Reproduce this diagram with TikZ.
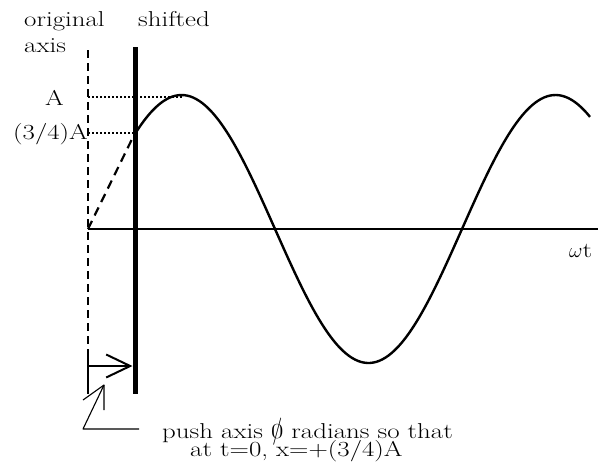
\documentclass[tikz,border=0pt]{standalone}
\usepackage{fontspec}
\setmainfont{Latin Modern Roman}[FakeStretch=1.25]
\usepackage{graphicx}
\usetikzlibrary{arrows.meta}
\newcommand{\slashzero}{{\ooalign{0\cr\hidewidth\scalebox{0.8}[1.27]{/}\hidewidth\cr}}}
\begin{document}
\begin{tikzpicture}[x=1pt,y=-1pt,line join=round,
  txt/.style={inner sep=0pt,anchor=base west,font=\fontsize{21.5}{26}\selectfont},
  axisline/.style={line width=2pt},
  origaxis/.style={line width=2.6pt,dash pattern=on 8pt off 5pt},
  shiftaxis/.style={line width=5pt},
  guide/.style={line width=1.1pt,dash pattern=on 2pt off 2pt},
  slant/.style={line width=2.2pt,dash pattern=on 9pt off 6pt},
  wave/.style={line width=2.4pt},
  callout/.style={line width=1.1pt},
  pusharrow/.style={line width=2pt,-{Straight Barb[length=24pt,width=23pt,line width=2pt]}}]
\useasboundingbox (0,0) rectangle (604,466);
% coordinates
\coordinate (otop) at (88,50);
\coordinate (obot) at (88,394);
\coordinate (otail) at (88,351);
\coordinate (stop) at (135,47);
\coordinate (sbot) at (135,394);
\coordinate (origin) at (88,229);
\coordinate (xend) at (598,229);
\coordinate (start) at (135,133);
\coordinate (peak) at (183,97);
\coordinate (Alev) at (88,97);
\coordinate (Aqlev) at (88,133);
\coordinate (arrS) at (88,366);
\coordinate (arrE) at (132.5,366);
\coordinate (tip) at (104,385);
\coordinate (c1) at (83,400);
\coordinate (c2) at (104,410);
\coordinate (c3) at (83,429);
\coordinate (c4) at (139,429);
% axes
\draw[origaxis] (otop) -- (obot);
\draw[axisline] (origin) -- (xend);
\draw[shiftaxis] (stop) -- (sbot);
% guides
\draw[guide] (Alev) -- (peak);
\draw[guide] (Aqlev) -- (start);
\draw[slant] (origin) -- (start);
% wave
\draw[wave] plot[domain=135:590,samples=150,smooth] (\x,{229-134*sin((\x-88)/374*360)});
% push arrow
\draw[axisline] (otail) -- (obot);
\draw[pusharrow] (arrS) -- (arrE);
% callout
\draw[callout] (c1) -- (tip) -- (c2);
\draw[callout] (tip) -- (c3) -- (c4);
% labels
\node[txt] (lorig) at (24,26) {original};
\node[txt] (laxis) at (24,52) {axis};
\node[txt] (lshift) at (138,26) {shifted};
\node[txt] (lA) at (45,105) {A};
\node[txt] (lAq) at (13,139) {(3/4)A};
\node[txt] (lwt) at (569,257) {$\omega$t};
\node[txt] (lpush1) at (162,438) {push axis \slashzero\ radians so that};
\node[txt] (lpush2) at (190,456) {at t=0, x=+(3/4)A};
\end{tikzpicture}
\end{document}
